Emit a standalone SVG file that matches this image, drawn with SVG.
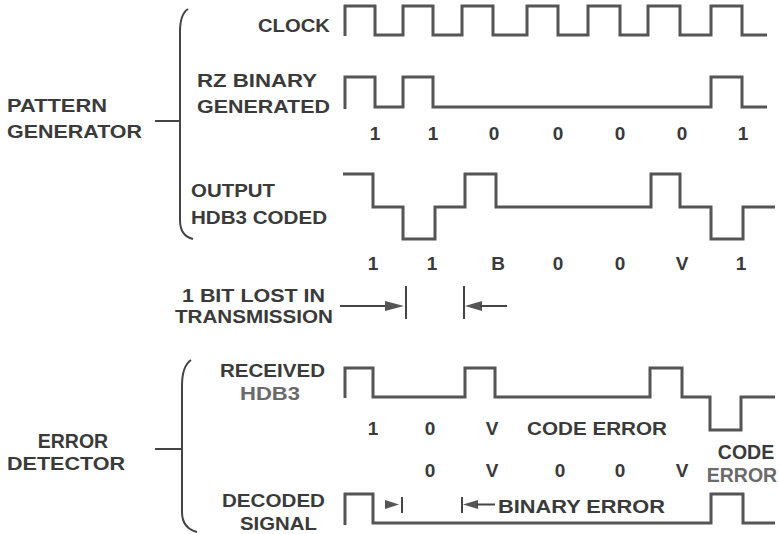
<svg xmlns="http://www.w3.org/2000/svg" width="778" height="534" viewBox="0 0 778 534">
<style>
.t{font-family:"Liberation Sans",Arial,sans-serif;font-weight:bold;font-size:19px;fill:#3a3a3a}
.s{font-size:19.5px}
.l{fill:#6a6a6a}
.m{text-anchor:middle}
.w{fill:none;stroke:#555;stroke-width:3;stroke-linejoin:miter}
.b{fill:none;stroke:#444;stroke-width:2}
.a{fill:#555;stroke:none}
.k{stroke:#444;stroke-width:2;fill:none}
</style>
<rect width="778" height="534" fill="#fff"/>
<g id="pattern-generator">
<path class="b" d="M188,9 Q180,14 180,32 V220 Q180,236 193,239"/>
<path class="b" d="M155,121 H180"/>
<text class="t" x="7" y="112" textLength="100" lengthAdjust="spacingAndGlyphs">PATTERN</text>
<text class="t" x="7" y="138" textLength="135" lengthAdjust="spacingAndGlyphs">GENERATOR</text>
</g>
<g id="clock">
<text class="t" x="258" y="32" textLength="72" lengthAdjust="spacingAndGlyphs">CLOCK</text>
<path class="w" d="M345,36 V6 H375 V35 H403 V6 H433 V35 H462 V6 H493 V35 H527 V6 H558 V35 H588 V6 H620 V35 H648 V6 H680 V35 H711 V6 H742 V35 H767"/>
</g>
<g id="rz-binary">
<text class="t" x="197" y="87" textLength="120" lengthAdjust="spacingAndGlyphs">RZ BINARY</text>
<text class="t" x="197" y="113" textLength="133" lengthAdjust="spacingAndGlyphs">GENERATED</text>
<path class="w" d="M345,109 V77 H375 V107 H403 V77 H433 V107 H711 V77 H742 V107 H767"/>
<g class="t m">
<text x="375" y="140">1</text><text x="433" y="140">1</text><text x="494" y="140">0</text><text x="558" y="140">0</text><text x="620" y="140">0</text><text x="682" y="140">0</text><text x="743" y="140">1</text>
</g>
</g>
<g id="hdb3-output">
<text class="t" x="191" y="197" textLength="84" lengthAdjust="spacingAndGlyphs">OUTPUT</text>
<text class="t" x="191" y="224" textLength="136" lengthAdjust="spacingAndGlyphs">HDB3 CODED</text>
<path class="w" d="M343,174 H373 V207 H403 V239 H435 V207 H465 V174 H496 V207 H651 V174 H680 V207 H711 V239 H743 V207 H775"/>
<g class="t m">
<text x="373" y="270">1</text><text x="432" y="270">1</text><text x="498" y="270">B</text><text x="558" y="270">0</text><text x="620" y="270">0</text><text x="682" y="270">V</text><text x="741" y="270">1</text>
</g>
</g>
<g id="bit-lost">
<text class="t" x="182" y="302" textLength="143" lengthAdjust="spacingAndGlyphs">1 BIT LOST IN</text>
<text class="t" x="175" y="323" textLength="158" lengthAdjust="spacingAndGlyphs">TRANSMISSION</text>
</g>
<g id="connectors">
<path class="k" d="M340,306 H388"/>
<polygon class="a" points="385,301 404,306 385,311"/>
<path class="k" d="M406,286 V319"/>
<path class="k" d="M464,286 V319"/>
<polygon class="a" points="465,306 482,301 482,311"/>
<path class="k" d="M480,306 H507"/>
<polygon class="a" points="385,500 399,504.5 385,509"/>
<path class="k" d="M402,497 V513"/>
<path class="k" d="M462,497 V513"/>
<polygon class="a" points="463,504.5 478,500 478,509"/>
<path class="k" d="M476,504.5 H495"/>
</g>
<g id="error-detector">
<path class="b" d="M191,360 Q182,366 182,386 V512 Q182,528 197,532"/>
<path class="b" d="M155,449 H182"/>
<text class="t s m" x="73" y="448">ERROR</text>
<text class="t" x="7" y="470" textLength="118" lengthAdjust="spacingAndGlyphs">DETECTOR</text>
</g>
<g id="received-hdb3">
<text class="t" x="220" y="377" textLength="105" lengthAdjust="spacingAndGlyphs">RECEIVED</text>
<text class="t l" x="240" y="400" textLength="60" lengthAdjust="spacingAndGlyphs">HDB3</text>
<path class="w" d="M345,398 V368 H373 V397 H465 V368 H495 V397 H650 V368 H682 V397 H710 V430 H741 V397 H775"/>
<g class="t m">
<text x="373" y="435">1</text><text x="430" y="435">0</text><text x="492" y="435">V</text>
</g>
<text class="t" x="527" y="435" textLength="140" lengthAdjust="spacingAndGlyphs">CODE ERROR</text>
<text class="t s m" x="746" y="459">CODE</text>
<text class="t s m l" x="742" y="482">ERROR</text>
</g>
<g id="decoded-signal">
<g class="t m">
<text x="430" y="477">0</text><text x="492" y="477">V</text><text x="560" y="477">0</text><text x="620" y="477">0</text><text x="682" y="477">V</text>
</g>
<text class="t" x="222" y="507" textLength="103" lengthAdjust="spacingAndGlyphs">DECODED</text>
<text class="t" x="240" y="530" textLength="77" lengthAdjust="spacingAndGlyphs">SIGNAL</text>
<path class="w" d="M345,525 V494 H373 V523 H711 V494 H743 V523 H775"/>
<text class="t" x="498" y="513" textLength="167" lengthAdjust="spacingAndGlyphs">BINARY ERROR</text>
</g>
</svg>
